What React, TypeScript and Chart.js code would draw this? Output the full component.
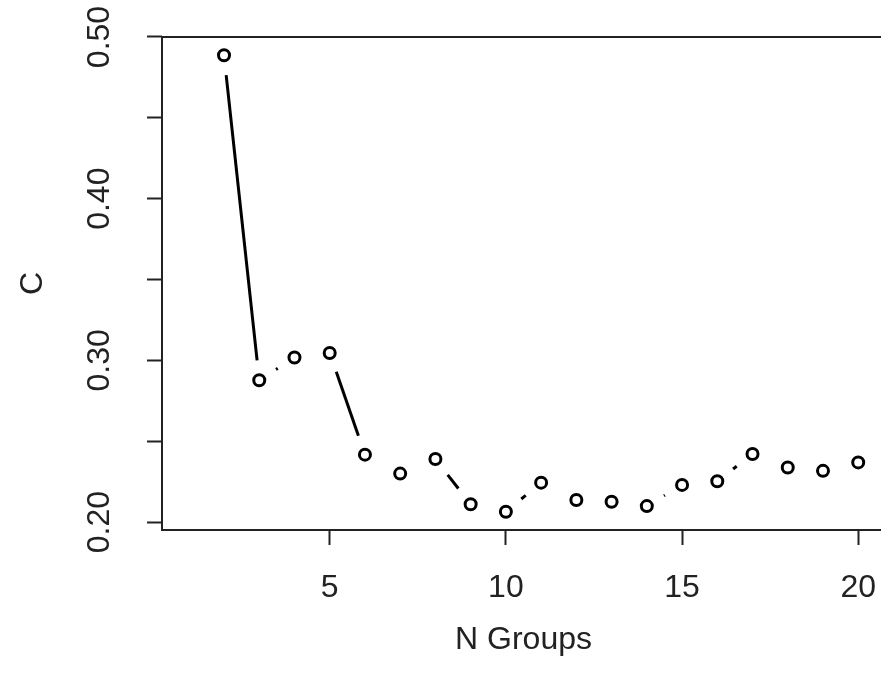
import React, { useEffect, useRef } from "react";
import { Chart, registerables } from "chart.js";

Chart.register(...registerables);

// ---- data ----
const groups = [2, 3, 4, 5, 6, 7, 8, 9, 10, 11, 12, 13, 14, 15, 16, 17, 18, 19, 20];
const cValues = [
  0.4887, 0.2877, 0.3018, 0.3046, 0.2417, 0.2300, 0.2390, 0.2110, 0.2064, 0.2244,
  0.2137, 0.2126, 0.2099, 0.2230, 0.2253, 0.2421, 0.2338, 0.2317, 0.2369,
];
const xDomain = [1, 20];
const xTicks = [5, 10, 15, 20];
const yTicks = [0.2, 0.25, 0.3, 0.35, 0.4, 0.45, 0.5];
const yTickLabels = ["0.20", "0.30", "0.40", "0.50"];
const xTitle = "N Groups";
const yTitle = "C";

const FONT = "'Liberation Sans', Arial, sans-serif";
const FSIZE = 32;
const GAP = 20;
const INK = "#222";

function ext(lo: number, hi: number): [number, number] {
  const d = (hi - lo) * 0.04;
  return [lo - d, hi + d];
}

const boxPlugin = {
  id: "rbox",
  afterDraw(chart: any) {
    const { ctx, chartArea } = chart;
    ctx.save();
    ctx.strokeStyle = INK;
    ctx.lineWidth = 2;
    ctx.strokeRect(chartArea.left, chartArea.top, chartArea.right - chartArea.left, chartArea.bottom - chartArea.top);
    ctx.restore();
  },
};

export default function App() {
  const ref = useRef<HTMLCanvasElement>(null);
  useEffect(() => {
    if (!ref.current) return;
    const [xmin, xmax] = ext(xDomain[0], xDomain[1]);
    const [ymin, ymax] = ext(Math.min(...cValues), Math.max(...cValues));
    const chart = new Chart(ref.current, {
      type: "line",
      data: {
        datasets: [
          {
            data: groups.map((g, i) => ({ x: g, y: cValues[i] })),
            borderColor: "#000",
            borderWidth: 3,
            pointRadius: 5.5,
            pointBorderWidth: 3,
            pointBackgroundColor: "rgba(0,0,0,0)",
            pointBorderColor: "#000",
            tension: 0,
            segment: {
              borderDash: (c: any) => {
                const L = Math.hypot(c.p1.x - c.p0.x, c.p1.y - c.p0.y);
                const d = L - 2 * GAP;
                return d > 0 ? [0, GAP, d, GAP + 2000] : [0, L + 2000];
              },
            },
          },
        ],
      },
      options: {
        responsive: false,
        animation: false,
        layout: { padding: { left: 0, top: 37, right: 15, bottom: 0 } },
        plugins: { legend: { display: false }, tooltip: { enabled: false } },
        scales: {
          x: {
            type: "linear",
            min: xmin,
            max: xmax,
            afterBuildTicks: (s: any) => {
              s.ticks = xTicks.map((v) => ({ value: v }));
            },
            afterFit: (s: any) => {
              s.height = 160;
              s.paddingLeft = 0;
              s.paddingRight = 0;
            },
            grid: { drawOnChartArea: false, drawTicks: true, tickLength: 15, tickWidth: 2, tickColor: INK },
            border: { display: false },
            ticks: {
              autoSkip: false,
              maxRotation: 0,
              padding: 24,
              color: INK,
              font: { family: FONT, size: FSIZE },
              callback: (v: any) => String(v),
            },
            title: {
              display: true,
              text: xTitle,
              color: INK,
              font: { family: FONT, size: FSIZE },
              padding: { top: 0, bottom: 31 },
            },
          },
          y: {
            type: "linear",
            min: ymin,
            max: ymax,
            afterBuildTicks: (s: any) => {
              s.ticks = yTicks.map((v) => ({ value: v }));
            },
            afterFit: (s: any) => {
              s.width = 162;
              s.paddingTop = 0;
              s.paddingBottom = 0;
            },
            grid: { drawOnChartArea: false, drawTicks: true, tickLength: 15, tickWidth: 2, tickColor: INK },
            border: { display: false },
            ticks: {
              autoSkip: false,
              minRotation: 90,
              maxRotation: 90,
              crossAlign: "center",
              padding: 16,
              color: INK,
              font: { family: FONT, size: FSIZE },
              callback: (v: any) => {
                const s = Number(v).toFixed(2);
                return yTickLabels.includes(s) ? s : "";
              },
            },
            title: {
              display: true,
              text: yTitle,
              color: INK,
              font: { family: FONT, size: FSIZE },
              padding: { top: 14, bottom: 0 },
            },
          },
        },
      } as any,
      plugins: [boxPlugin],
    });
    return () => chart.destroy();
  }, []);

  return (
    <div
      style={{
        position: "fixed",
        left: 0,
        top: 0,
        width: 881,
        height: 690,
        overflow: "hidden",
        background: "#fff",
      }}
    >
      <canvas ref={ref} width={900} height={690} style={{ display: "block" }} />
    </div>
  );
}
